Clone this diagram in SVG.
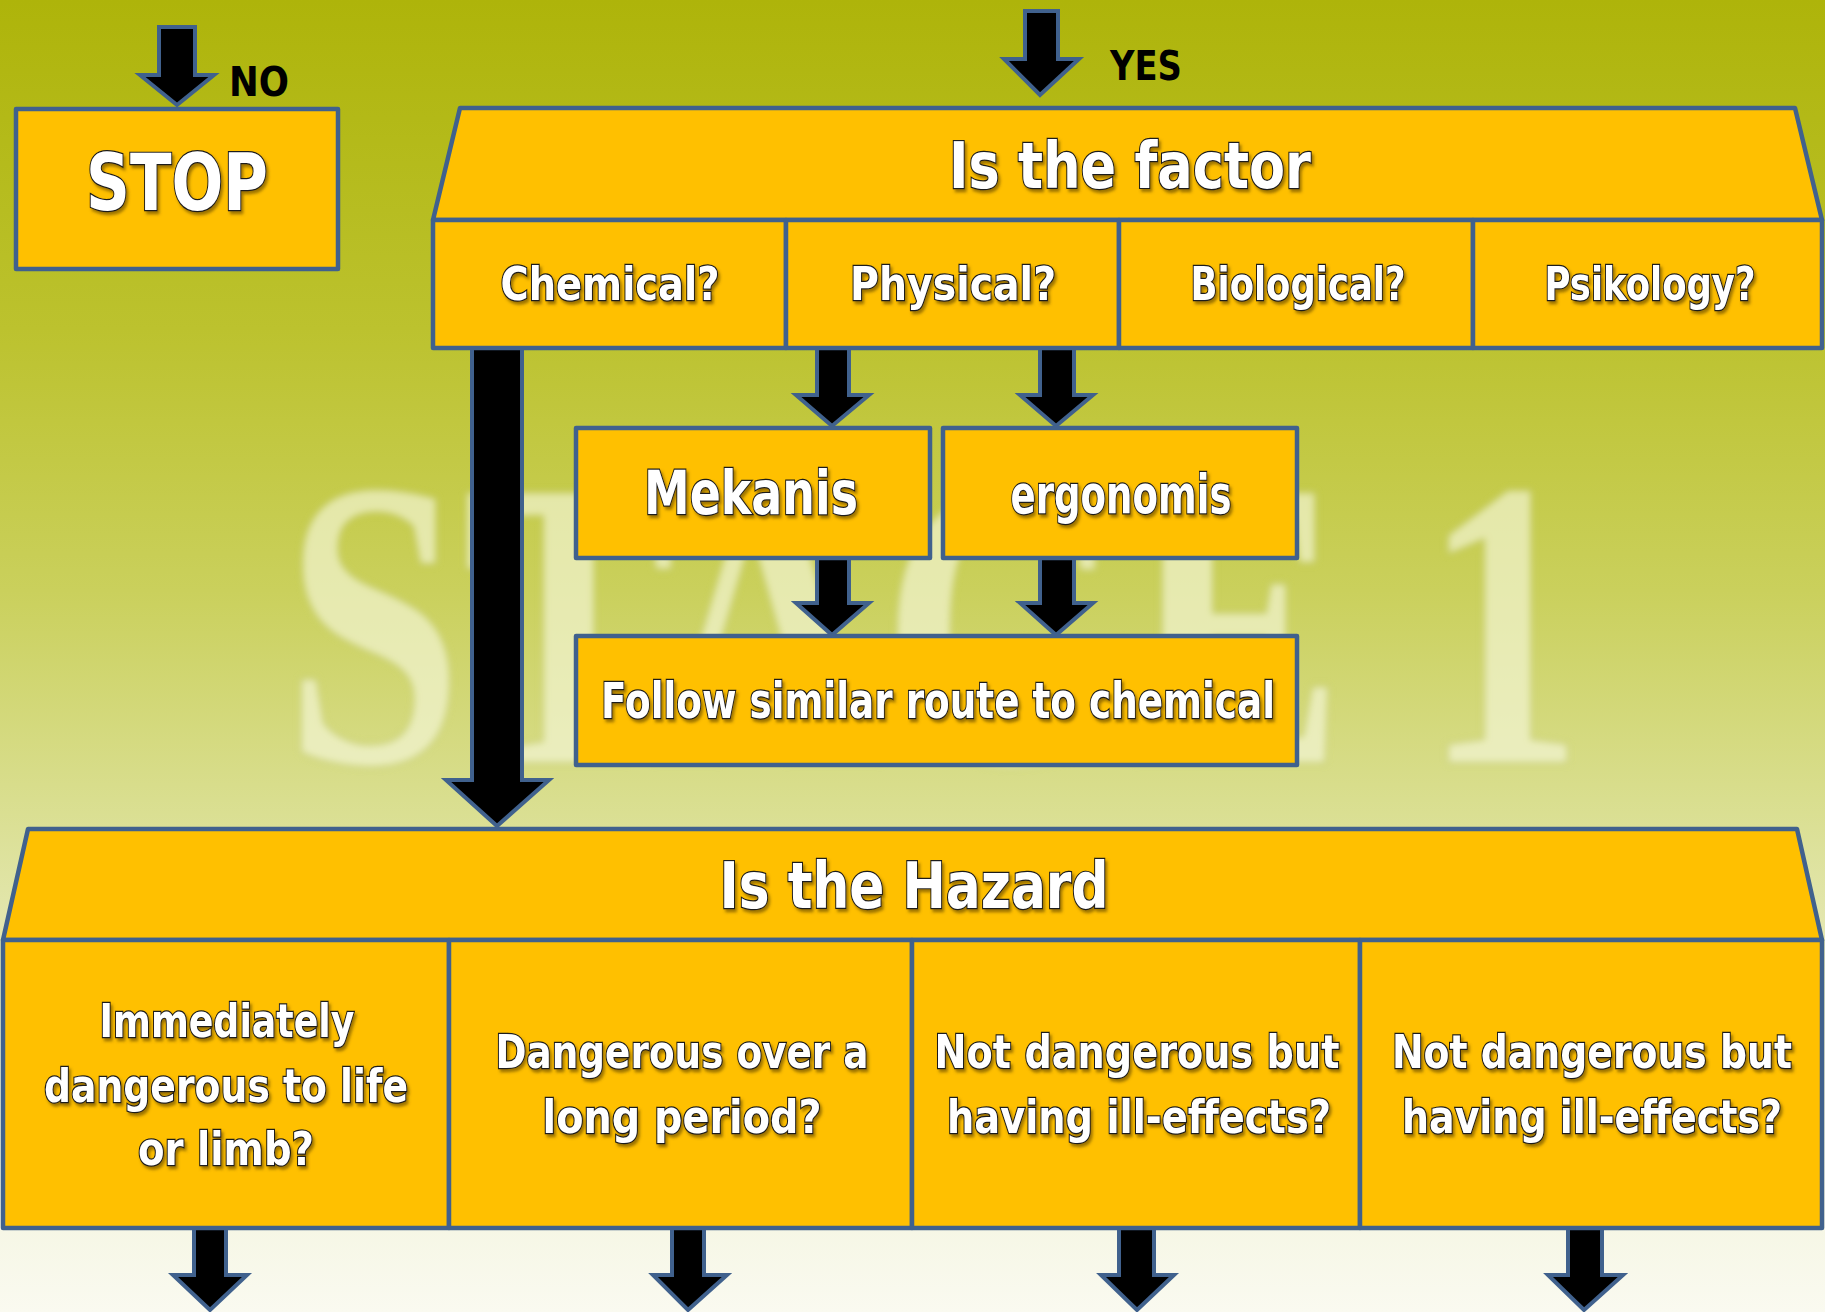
<svg xmlns="http://www.w3.org/2000/svg" width="1825" height="1312" viewBox="0 0 1825 1312">
  <defs>
    <linearGradient id="bg" x1="0" y1="0" x2="0" y2="1">
      <stop offset="0" stop-color="#AEB40A"/>
      <stop offset="0.25" stop-color="#BCC22E"/>
      <stop offset="0.45" stop-color="#CAD05C"/>
      <stop offset="0.62" stop-color="#DADF92"/>
      <stop offset="0.8" stop-color="#EDEFCF"/>
      <stop offset="1" stop-color="#FAFAF0"/>
    </linearGradient>
    <filter id="soft" x="-10%" y="-10%" width="120%" height="120%">
      <feGaussianBlur stdDeviation="3.5"/>
    </filter>
    <filter id="shadow" x="-10%" y="-20%" width="120%" height="150%">
      <feDropShadow dx="2" dy="3" stdDeviation="1.5" flood-color="#5a4000" flood-opacity="0.6"/>
    </filter>
    <style>
      .box { fill: #FFC000; stroke: #40618D; stroke-width: 4.5; stroke-linejoin: round; }
      .arrow { fill: #000; stroke: #40618D; stroke-width: 4; stroke-linejoin: miter; }
      .lbl { font-family: "DejaVu Sans", "Liberation Sans", sans-serif; font-weight: bold; fill: #fff; stroke: #1a1a1a; stroke-width: 2.4; paint-order: stroke; text-anchor: middle; filter: url(#shadow); }
      .head { font-size: 64px; }
      .col { font-size: 46px; }
      .sub { font-size: 50px; }
      .ans { font-family: "DejaVu Sans", "Liberation Sans", sans-serif; font-weight: bold; fill: #000; font-size: 40px; text-anchor: middle; }
      .mark { font-family: "Liberation Serif", serif; font-weight: bold; font-size: 410px; fill: #F6F8DC; stroke: #B9C24A; stroke-width: 4; paint-order: stroke; opacity: 0.65; filter: url(#soft); }
    </style>
  </defs>

  <!-- background with faint stage title -->
  <rect x="0" y="0" width="1825" height="1312" fill="url(#bg)"/>
  <text class="mark" x="285" y="762" textLength="1298" lengthAdjust="spacingAndGlyphs">STAGE 1</text>

  <!-- connectors -->
  <g id="connectors">
    <path class="arrow" d="M159 27 H195 V75 H214 L177 105 L140 75 H159 Z"/>
    <path class="arrow" d="M1025 11 H1058 V59 H1079 L1040 95 L1004 59 H1025 Z"/>
    <path class="arrow" d="M472 348 H522 V780 H549 L497 826 L446 780 H472 Z"/>
    <path class="arrow" d="M817 348 H849 V395 H869 L832 426 L796 395 H817 Z"/>
    <path class="arrow" d="M1040 348 H1074 V395 H1093 L1056 426 L1020 395 H1040 Z"/>
    <path class="arrow" d="M817 558 H849 V603 H869 L832 635 L796 603 H817 Z"/>
    <path class="arrow" d="M1040 558 H1074 V603 H1093 L1056 635 L1020 603 H1040 Z"/>
    <path class="arrow" d="M194 1228 H226 V1275 H247 L210 1310 L173 1275 H194 Z"/>
    <path class="arrow" d="M672 1228 H704 V1275 H727 L688 1310 L653 1275 H672 Z"/>
    <path class="arrow" d="M1119 1228 H1154 V1275 H1174 L1137 1310 L1101 1275 H1119 Z"/>
    <path class="arrow" d="M1568 1228 H1602 V1275 H1623 L1584 1310 L1548 1275 H1568 Z"/>
  </g>
  <text class="ans" x="259" y="96" textLength="60" lengthAdjust="spacingAndGlyphs">NO</text>
  <text class="ans" x="1146" y="80" textLength="72" lengthAdjust="spacingAndGlyphs">YES</text>

  <!-- stop -->
  <g id="stop">
    <rect class="box" x="16" y="109" width="322" height="160"/>
    <text class="lbl" x="177" y="210" font-size="78" textLength="182" lengthAdjust="spacingAndGlyphs">STOP</text>
  </g>

  <!-- factor question -->
  <g id="factor">
    <path class="box" d="M460 108 H1795 L1822 220 H433 Z"/>
    <text class="lbl head" x="1130" y="188" textLength="362" lengthAdjust="spacingAndGlyphs">Is the factor</text>
  </g>
  <g id="chemical">
    <rect class="box" x="433" y="220" width="353" height="128"/>
    <text class="lbl col" x="610" y="300" textLength="219" lengthAdjust="spacingAndGlyphs">Chemical?</text>
  </g>
  <g id="physical">
    <rect class="box" x="786" y="220" width="333" height="128"/>
    <text class="lbl col" x="953" y="300" textLength="206" lengthAdjust="spacingAndGlyphs">Physical?</text>
  </g>
  <g id="biological">
    <rect class="box" x="1119" y="220" width="354" height="128"/>
    <text class="lbl col" x="1298" y="300" textLength="215" lengthAdjust="spacingAndGlyphs">Biological?</text>
  </g>
  <g id="psikology">
    <rect class="box" x="1473" y="220" width="349" height="128"/>
    <text class="lbl col" x="1650" y="300" textLength="211" lengthAdjust="spacingAndGlyphs">Psikology?</text>
  </g>

  <!-- physical sub-types -->
  <g id="mekanis">
    <rect class="box" x="576" y="428" width="354" height="130"/>
    <text class="lbl" x="751" y="514" font-size="60" textLength="214" lengthAdjust="spacingAndGlyphs">Mekanis</text>
  </g>
  <g id="ergonomis">
    <rect class="box" x="943" y="428" width="354" height="130"/>
    <text class="lbl" x="1121" y="513" font-size="54" textLength="221" lengthAdjust="spacingAndGlyphs">ergonomis</text>
  </g>
  <g id="follow">
    <rect class="box" x="576" y="636" width="721" height="129"/>
    <text class="lbl sub" x="938" y="718" textLength="674" lengthAdjust="spacingAndGlyphs">Follow similar route to chemical</text>
  </g>

  <!-- hazard question -->
  <g id="hazard">
    <path class="box" d="M28 829 H1797 L1822 940 H3 Z"/>
    <text class="lbl head" x="914" y="908" textLength="389" lengthAdjust="spacingAndGlyphs">Is the Hazard</text>
  </g>
  <g id="immediate">
    <rect class="box" x="3" y="940" width="446" height="288"/>
    <text class="lbl col" x="227" y="1037" textLength="255" lengthAdjust="spacingAndGlyphs">Immediately</text>
    <text class="lbl col" x="226" y="1102" textLength="364" lengthAdjust="spacingAndGlyphs">dangerous to life</text>
    <text class="lbl col" x="226" y="1165" textLength="176" lengthAdjust="spacingAndGlyphs">or limb?</text>
  </g>
  <g id="long-period">
    <rect class="box" x="449" y="940" width="463" height="288"/>
    <text class="lbl col" x="682" y="1068" textLength="373" lengthAdjust="spacingAndGlyphs">Dangerous over a</text>
    <text class="lbl col" x="682" y="1133" textLength="279" lengthAdjust="spacingAndGlyphs">long period?</text>
  </g>
  <g id="ill-effects-1">
    <rect class="box" x="912" y="940" width="448" height="288"/>
    <text class="lbl col" x="1137" y="1068" textLength="405" lengthAdjust="spacingAndGlyphs">Not dangerous but</text>
    <text class="lbl col" x="1139" y="1133" textLength="384" lengthAdjust="spacingAndGlyphs">having ill-effects?</text>
  </g>
  <g id="ill-effects-2">
    <rect class="box" x="1360" y="940" width="462" height="288"/>
    <text class="lbl col" x="1592" y="1068" textLength="400" lengthAdjust="spacingAndGlyphs">Not dangerous but</text>
    <text class="lbl col" x="1592" y="1133" textLength="380" lengthAdjust="spacingAndGlyphs">having ill-effects?</text>
  </g>
</svg>
